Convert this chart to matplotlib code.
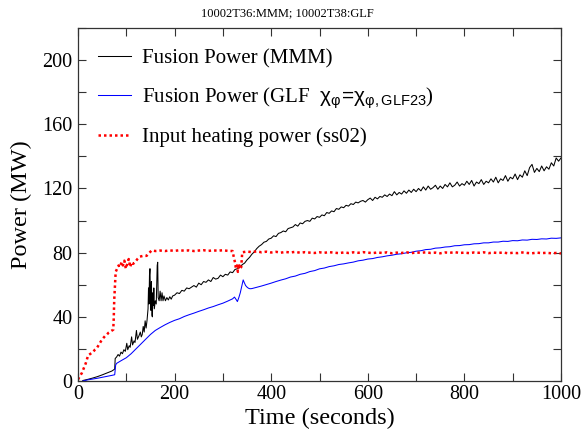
import matplotlib
matplotlib.use("Agg")
import matplotlib.pyplot as plt
from matplotlib.ticker import MultipleLocator

plt.rcParams['font.family'] = ['Liberation Serif', 'DejaVu Serif']
plt.rcParams['mathtext.fontset'] = 'custom'
plt.rcParams['mathtext.rm'] = 'Liberation Sans'
plt.rcParams['mathtext.it'] = 'Liberation Sans'
plt.rcParams['mathtext.bf'] = 'Liberation Sans:bold'
plt.rcParams['mathtext.sf'] = 'Liberation Sans'

title = "10002T36:MMM; 10002T38:GLF"
xlabel = "Time (seconds)"
ylabel = "Power (MW)"
label_mmm = "Fusion Power (MMM)"
label_glf = r"Fusion Power (GLF  $\chi_{\varphi}\!=\!\chi_{\varphi\mathrm{,GLF23}}$)"
label_heat = "Input heating power (ss02)"

xticks = [0, 200, 400, 600, 800, 1000]
yticks = [0, 40, 80, 120, 160, 200]

# ---- MMM fusion power (black) ----
t_mmm_early = [10, 20, 30, 40, 50, 60, 70, 75, 76, 77, 80, 83, 86, 89, 92, 95, 98, 101, 103,
               106, 108, 111, 113, 116, 118, 121, 123, 126, 129, 131, 133, 135, 137, 139, 141,
               143, 145, 146, 147, 148, 149, 150, 151, 152, 153, 154, 155, 156, 157, 158, 160,
               162, 164, 165, 166, 168, 170, 172, 174, 176, 178, 181, 184, 187, 190, 193, 196]
p_mmm_early = [0.3, 1.0, 1.8, 2.7, 3.8, 5.0, 6.2, 7.2, 7.5, 14, 15, 16.5, 15.5, 18, 17, 19.5, 18.5,
               23.5, 19.5, 22, 21, 27.5, 22.5, 25, 24, 31.5, 26, 28, 30.5, 27.5, 29, 34, 30.5,
               37.5, 33, 38, 45, 58, 48, 66, 70, 52, 44, 62, 41, 40, 55, 47, 58, 45, 50,
               48, 72, 74, 52, 50, 56, 50, 55, 50, 53, 50, 52, 50.5, 52.5, 51, 53]
t_mmm_late = list(range(200, 1001, 5))
p_mmm_late = [53.5, 55, 54.5, 56.5, 56, 58, 57.5, 58.5, 59.5, 58.5,
              61, 60, 62, 61.5, 63, 62, 64.5, 63.5, 64, 66,
              65, 66.5, 66, 68, 67.5, 69.5, 70, 71, 72.5, 73.5,
              75.5, 77, 79, 80.5, 82.5, 84, 85, 86.5, 87, 88.5,
              89, 90.5, 90, 92, 92.5, 93.5, 93, 95, 95.5, 96,
              97.5, 96.5, 98.5, 98, 99.5, 100, 99.5, 101.5, 101, 102.5,
              102, 103.5, 103, 105, 104.5, 106, 105.5, 107.5, 107, 108.5,
              108, 109.5, 109, 110.5, 110, 111.5, 111, 112, 112.5, 111.5,
              113, 114, 112.5, 114.5, 113.5, 115, 114.5, 116, 115, 116.5,
              115.5, 118, 116, 117.5, 116.5, 118.5, 117, 119, 117.5, 119.5,
              118, 120, 118.5, 121, 119, 121.5, 119.5, 120.5, 122, 119.5,
              121.5, 120, 122.5, 121, 123.5, 121, 122, 124, 121.5, 123,
              122, 124.5, 122.5, 125, 121.5, 124, 123, 125.5, 122.5, 124.5,
              123.5, 126, 124, 127, 123.5, 126, 125, 128, 124.5, 127,
              126, 129, 125.5, 128.5, 127, 131, 128, 133, 135, 130,
              132.5, 130.5, 134, 131, 133.5, 132, 136, 134, 139, 137,
              139]
t_mmm = t_mmm_early + t_mmm_late
p_mmm = p_mmm_early + p_mmm_late

# ---- GLF fusion power (blue) ----
t_glf = [10, 20, 30, 40, 50, 60, 70, 76, 78, 80, 90, 100, 110, 120, 130, 140, 150, 160, 170,
         180, 190, 200, 210, 220, 230, 240, 250, 260, 270, 280, 290, 300, 310, 320, 324, 328,
         330, 333, 336, 339, 342, 344, 347, 350, 353, 356,
         360, 370, 380, 390, 400, 410, 420, 430, 440, 450, 460, 470, 480, 490, 500, 510, 520,
         530, 540, 550, 560, 570, 580, 590, 600, 610, 620, 630, 640, 650, 660, 670, 680, 690,
         700, 710, 720, 730, 740, 750, 760, 770, 780, 790, 800, 810, 820, 830, 840, 850, 860,
         870, 880, 890, 900, 910, 920, 930, 940, 950, 960, 970, 980, 990, 1000]
p_glf = [0.0, 0.7, 1.2, 1.7, 2.3, 2.9, 3.5, 3.9, 10, 11, 12.8, 14.5, 17, 20, 23, 26, 29, 31.5,
         33.3, 35, 36.5, 37.8, 38.8, 40.2, 41.3, 42.3, 43.4, 44.4, 45.5, 46.4, 47.5, 48.5, 49.8,
         51.2, 52.3, 50.5, 49.5, 52, 55, 59, 63, 61.5, 59.5, 58.5, 57.8, 57.5,
         57.6, 58.4, 59.2, 60.1, 61.0, 62.0, 62.9, 63.7, 64.8, 65.4, 66.5, 67.1, 68.2, 68.8,
         69.9, 70.4, 71.3, 71.8, 72.6, 73.0, 73.6, 74.1, 74.9, 75.3, 76.0, 76.3, 77.0, 77.4,
         78.0, 78.4, 79.0, 79.3, 79.9, 80.2, 80.9, 81.2, 81.9, 82.1, 82.8, 83.0, 83.5, 83.7,
         84.3, 84.4, 84.9, 85.0, 85.5, 85.6, 86.1, 86.1, 86.6, 86.6, 87.1, 87.0, 87.5, 87.4,
         87.9, 87.8, 88.3, 88.2, 88.6, 88.5, 89.0, 88.9, 89.2]

# ---- Input heating power (red) ----
t_heat = [0, 4, 8, 12, 16, 21, 26, 31, 35, 39, 44, 49, 53, 56, 60, 63, 68, 73, 74, 75, 76, 77,
          78, 81, 84, 87, 90, 93, 96, 99, 102, 105, 108, 111, 114, 118, 123, 128, 135, 142, 148,
          153, 160,
          170, 180, 190, 200, 210, 220, 230, 240, 250, 260, 270, 280, 290, 300, 310, 320,
          322, 325, 327, 329, 331, 333, 335, 338,
          340, 350, 360, 370, 380, 390, 400, 410, 420, 430, 440, 450, 460, 470, 480, 490, 500,
          510, 520, 530, 540, 550, 560, 570, 580, 590, 600, 610, 620, 630, 640, 650, 660, 670,
          680, 690, 700, 710, 720, 730, 740, 750, 760, 770, 780, 790, 800, 810, 820, 830, 840,
          850, 860, 870, 880, 890, 900, 910, 920, 930, 940, 950, 960, 970, 980, 990, 1000]
p_heat = [1, 3, 5, 8, 11, 16, 17, 18, 19.5, 20.5, 23, 25.5, 27, 28, 29, 30, 31, 32, 39, 50.5, 56,
          62.5, 68, 70, 72, 71, 74, 72, 75, 70, 73, 76, 71, 74, 73, 74, 76, 77.5, 78, 78, 80,
          81.5, 81,
          81.3, 81.0, 81.4, 81.1, 81.5, 81.2, 81.4, 81.0, 81.3, 81.5, 81.1, 81.4, 81.2, 81.5,
          81.1, 81.0,
          78, 74, 70, 72, 68, 73, 70, 71,
          80.2, 80.7, 80.3, 80.8, 80.2, 80.6, 80.1, 80.5, 80.0, 80.4, 80.1, 80.5, 79.9, 80.3,
          80.0, 79.8, 80.2, 79.9, 80.3, 80.0, 79.7, 80.1, 79.8, 80.2, 79.9, 80.3, 80.0, 79.7,
          80.1, 79.8, 80.2, 79.6, 80.0, 79.8, 80.2, 79.7, 80.1, 79.9, 80.2, 79.8, 80.0, 79.6,
          80.1, 79.9, 80.3, 79.8, 80.0, 79.7, 80.1, 79.9, 80.2, 79.7, 80.0, 79.8, 80.1, 79.6,
          79.9, 79.7, 80.1, 79.8, 79.6, 80.0, 79.7, 79.9, 79.6, 79.8, 79.5]

fig = plt.figure(figsize=(5.86, 4.36), dpi=100)
ax = fig.add_axes([78 / 586, 55 / 436, 483 / 586, 353 / 436])

ax.plot(t_mmm, p_mmm, color='black', lw=0.75, label=label_mmm)
ax.plot(t_glf, p_glf, color='#0000ff', lw=0.75, label=label_glf)
ax.plot(t_heat, p_heat, color='#ff0000', lw=1.8, linestyle=(0, (1, 1.2)),
        dash_capstyle='butt', label=label_heat)

ax.set_xlim(0, 1000)
ax.set_ylim(0, 220)
ax.set_xticks(xticks)
ax.set_yticks(yticks)
ax.xaxis.set_minor_locator(MultipleLocator(100))
ax.yaxis.set_minor_locator(MultipleLocator(20))
ax.tick_params(which='both', direction='in', top=True, right=True, length=5.5,
               width=0.8, color='#333333', labelsize=14.5)
ax.tick_params(axis='x', pad=3)
ax.tick_params(axis='y', pad=4)
for s in ax.spines.values():
    s.set_linewidth(0.9)
    s.set_color('#333333')

ax.set_xlabel(xlabel, fontsize=17.5, labelpad=3)
ax.set_ylabel(ylabel, fontsize=17.5, labelpad=7)

fig.text(287 / 586, 1 - 13 / 436, title, fontsize=9, ha='center', va='center')

ax.legend(loc='upper left', bbox_to_anchor=(0.041, 0.94), frameon=False, fontsize=15,
          handlelength=1.6, handletextpad=0.5, labelspacing=0.8, borderpad=0,
          borderaxespad=0)

fig.savefig('out.png', dpi=100)
